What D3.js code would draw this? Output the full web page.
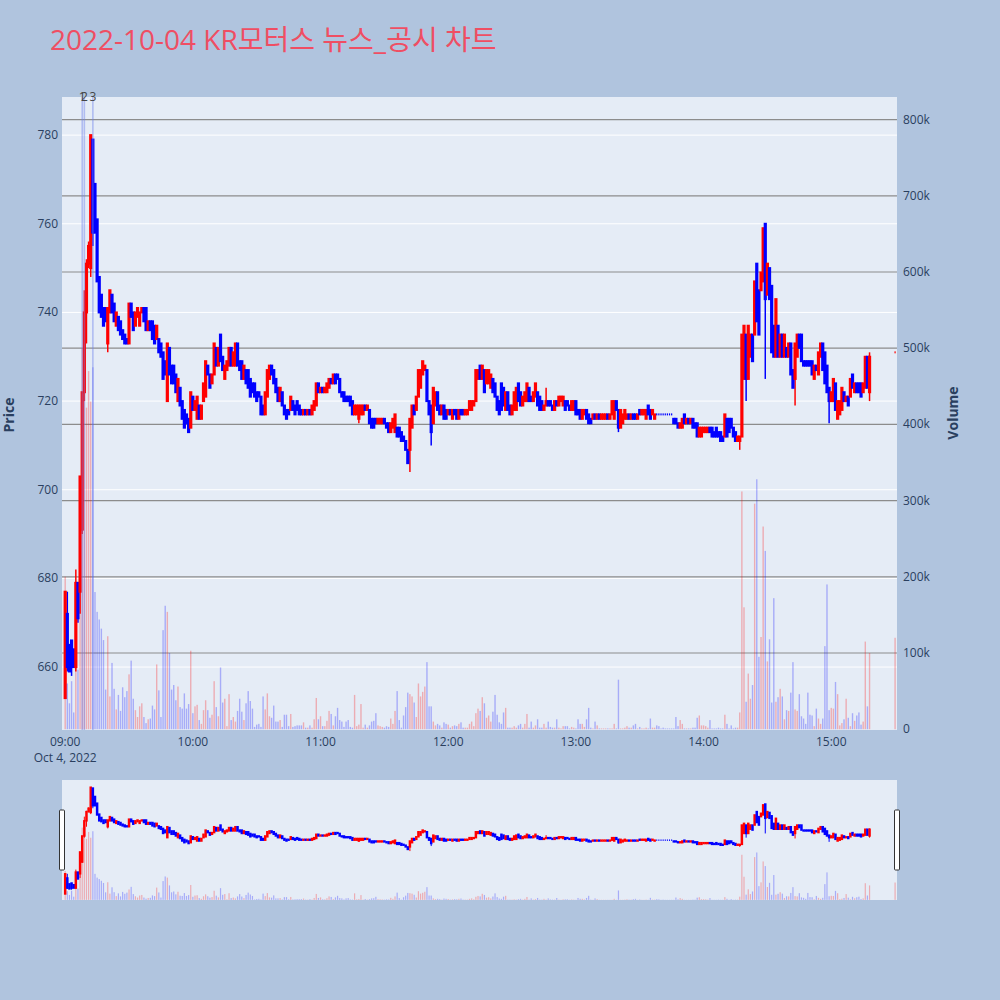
<!DOCTYPE html>
<html><head><meta charset="utf-8">
<script src="https://cdn.jsdelivr.net/npm/d3@7"></script>
<style>
body{margin:0;background:#B0C4DE;}
svg{display:block;font-family:"Open Sans","Noto Sans CJK KR",sans-serif;}
</style></head>
<body><svg id="chart" width="1000" height="1000"></svg>
<script>
// ---------------- DATA ----------------
const title = "2022-10-04 KR모터스 뉴스_공시 차트";
const sessionStart = "2022-10-04T09:00:00";
// minute candles 09:00 .. 15:18 (index = minutes after 09:00)
const opens = [
653,672,665,666,664,660,679,677,691,722,
740,751,750,779,769,761,748,744,741,741,
733,740,744,742,737,739,738,736,735,734,
733,742,740,737,739,737,740,741,741,736,
738,738,737,734,734,733,731,729,720,732,
728,728,726,720,723,720,718,717,716,714,
721,718,716,719,716,720,721,728,726,724,
726,732,728,735,730,725,727,728,732,728,
728,733,729,729,725,727,727,725,724,724,
722,722,721,719,717,721,725,728,727,725,
723,720,722,719,718,718,718,720,719,720,
719,718,717,718,717,718,717,718,719,724,
722,723,722,722,723,725,724,726,726,725,
722,722,721,721,721,720,717,717,716,717,
717,719,718,718,716,716,716,715,715,715,
716,715,715,713,714,713,714,714,713,712,
711,709,709,714,719,718,721,723,726,727,
727,720,719,715,719,722,719,717,719,718,
717,718,716,718,718,716,718,718,717,717,
718,718,719,720,725,728,725,727,724,724,
723,725,724,721,720,724,723,718,722,719,
717,718,718,724,722,719,720,720,723,721,
720,721,722,721,720,718,719,720,720,719,
718,720,719,720,719,720,720,719,718,718,
720,718,718,716,717,718,717,716,716,717,
716,717,716,716,716,717,716,717,716,720,
718,714,715,716,716,717,716,717,717,716,
718,717,717,716,719,718,717,716,717,717,
717,717,717,717,717,717,716,716,715,714,
714,717,715,716,715,716,715,715,712,712,
713,713,713,714,714,713,714,713,713,712,
712,716,716,716,714,713,711,711,712,725,
735,725,730,735,735,751,745,745,747,760,
744,750,746,737,730,737,730,735,730,732,
730,733,727,725,730,735,735,729,729,729,
729,729,725,728,726,730,733,731,728,723,
720,720,724,716,717,718,722,720,721,721,
726,722,724,724,724,722,723,730,722];
const closes = [
677,660,659,660,660,679,671,703,722,740,
751,755,780,758,758,747,740,739,737,738,
741,745,740,738,740,736,735,734,733,733,
742,739,736,740,741,740,741,738,736,738,
736,734,733,737,731,730,725,726,733,726,
724,724,722,725,719,716,714,715,713,722,
718,720,721,716,719,724,729,726,723,726,
733,728,732,729,727,728,729,732,728,731,
733,728,727,725,728,724,723,721,722,721,
720,721,717,717,722,727,728,726,724,722,
720,723,719,717,716,717,721,718,717,718,
717,717,718,717,718,717,719,720,724,722,
723,722,723,724,725,724,726,724,725,722,
721,720,720,720,719,717,719,719,719,719,
719,718,719,715,714,714,715,716,716,716,
715,714,713,715,716,717,712,712,711,711,
709,706,716,719,717,721,727,727,729,728,
720,717,713,723,722,718,717,719,716,716,
718,717,718,717,716,718,717,717,718,718,
720,720,720,727,727,725,728,722,727,727,
726,722,721,718,717,718,719,722,718,717,
719,722,723,720,719,721,722,724,720,720,
722,724,719,718,718,719,720,719,719,718,
720,719,721,721,721,718,719,718,720,720,
717,717,716,718,718,716,715,715,717,716,
717,716,717,717,717,716,717,720,720,718,
714,718,717,718,717,716,717,716,716,717,
717,718,718,718,717,716,718,717,717,717,
717,717,717,717,717,717,715,715,714,715,
716,715,716,715,716,714,714,712,714,714,
714,714,714,713,712,712,712,712,711,711,
717,712,713,714,712,711,712,712,735,737,
725,737,735,729,747,738,735,749,759,743,
751,743,731,730,743,730,735,730,735,730,
733,726,723,733,735,732,729,728,728,728,
728,726,728,727,731,733,727,724,722,720,
722,725,718,720,720,723,720,721,719,725,
723,724,722,722,721,724,730,723,730];
// visible wicks: [minute, high, low]
const wicks = [[0,677,653],[1,677,659],[3,666,658],[5,682,659],[6,679,670],[7,703,672],
[8,722,690],[9,745,720],[10,752,733],[11,756,750],[12,780,748],[13,779,755],[20,741,731],
[48,733,720],[73,735,729],[138,719,715],[162,716,704],[172,719,710],[226,723,719],
[260,718,713],[317,712,709],[320,735,720],[329,760,725],[343,733,719],[359,723,715],[378,731,720]];
// volume per minute, thousands of shares
const volumes = [
200,60,34,63,22,90,78,200,500,520,
422,470,430,475,180,154,144,132,117,52,
122,43,87,53,26,45,24,55,42,50,
72,90,40,25,16,30,34,16,8,13,
14,31,26,85,51,16,130,162,154,100,
52,58,38,56,29,27,47,27,33,103,
21,30,32,12,7,25,38,25,15,19,
63,29,17,81,35,40,4,46,12,16,
10,24,40,23,12,34,50,37,27,3,
6,7,3,43,26,47,17,15,31,10,
10,12,3,19,19,4,20,3,4,5,
5,5,9,2,2,5,2,13,41,13,
17,4,4,11,24,20,5,17,28,12,
10,3,10,12,3,2,45,4,6,33,
2,6,2,5,10,11,21,5,4,3,
2,4,3,14,7,24,50,12,2,18,
29,48,46,43,35,16,60,43,49,56,
88,30,30,10,5,7,5,2,9,7,
6,2,4,5,4,7,9,2,2,2,
7,10,4,21,27,24,42,34,15,18,
10,23,45,19,9,7,22,28,2,2,
2,4,2,5,7,2,7,20,2,10,
2,5,13,2,2,7,2,10,3,2,
2,13,2,1,4,4,4,1,3,2,
1,13,7,7,3,13,28,2,1,10,
5,1,1,1,1,1,1,1,7,1,
65,1,1,2,4,2,2,5,7,1,
3,1,1,2,1,14,2,2,5,4,
1,2,1,1,1,1,1,16,4,12,
7,1,1,1,1,2,2,15,18,5,
5,4,2,12,1,1,1,2,1,1,
19,7,1,5,1,2,2,22,312,160,
36,73,40,58,296,328,95,121,266,234,
89,118,35,172,36,42,53,43,13,25,
24,48,88,26,24,46,17,14,7,48,
19,18,4,27,14,7,14,109,190,25,
28,27,62,46,5,8,13,40,15,4,
21,11,18,22,6,10,115,30,100];
// closing auction (15:30)
const closingMinute = 390, closingPrice = 731, closingVolume = 120;
// news markers
const newsMinutes = [8, 9, 13];
const newsLabels = ["1", "2", "3"];
// axis ticks
const xTickMinutes = [0, 60, 120, 180, 240, 300, 360];
const xTickLabels = ["09:00", "10:00", "11:00", "12:00", "13:00", "14:00", "15:00"];
const priceTicks = [660, 680, 700, 720, 740, 760, 780];
const volumeTicks = [0, 100, 200, 300, 400, 500, 600, 700, 800];
const volumeTickLabels = ["0", "100k", "200k", "300k", "400k", "500k", "600k", "700k", "800k"];

// ---------------- BUILD ----------------
const t0 = new Date(sessionStart);
const tAt = m => new Date(t0.getTime() + m * 60000);
const wickMap = new Map(wicks.map(w => [w[0], w]));
const candles = opens.map((o, i) => {
  const c = closes[i], w = wickMap.get(i);
  return {t: tAt(i), o, c, h: Math.max(o, c, w ? w[1] : -Infinity), l: Math.min(o, c, w ? w[2] : Infinity), v: volumes[i] * 1000};
});
candles.push({t: tAt(closingMinute), o: closingPrice, c: closingPrice, h: closingPrice, l: closingPrice, v: closingVolume * 1000});
candles.forEach((d, i) => {
  if (d.c > d.o) d.up = true;
  else if (d.c < d.o) d.up = false;
  else d.up = i > 0 ? d.c > candles[i - 1].c : true;
});

const UP = "#ff0000", DOWN = "#0000ff";
const svg = d3.select("#chart");
const L = 62, R = 897, T = 97, B = 730;
const sT = 780, sB = 900;

const x = d3.scaleTime().domain([tAt(-1.5), tAt(390.9)]).range([L, R]);
const yP = d3.scaleLinear().domain([645.8, 788.6]).range([B, T]);
const yV = d3.scaleLinear().domain([-1.05, 829.7]).range([B, T]);
const yPs = d3.scaleLinear().domain([645.8, 788.6]).range([sB, sT]);
const yVs = d3.scaleLinear().domain([-1.05, 829.7]).range([sB, sT]);

// title
svg.append("text").attr("x", 50).attr("y", 50).attr("fill", "#EF4E63")
  .attr("font-size", 28).text(title);

// plot background
svg.append("rect").attr("x", L).attr("y", T).attr("width", R - L).attr("height", B - T).attr("fill", "#E5ECF6");
const defs = svg.append("defs");
defs.append("clipPath").attr("id", "clipMain").append("rect").attr("x", L).attr("y", T).attr("width", R - L).attr("height", B - T);
defs.append("clipPath").attr("id", "clipSlider").append("rect").attr("x", L).attr("y", sT).attr("width", R - L).attr("height", sB - sT);

// gridlines
const grid = svg.append("g");
grid.selectAll(".gp").data(priceTicks).join("line")
  .attr("x1", L).attr("x2", R).attr("y1", d => yP(d)).attr("y2", d => yP(d))
  .attr("stroke", "#ffffff").attr("stroke-width", 1);
grid.selectAll(".gv").data(volumeTicks.slice(1)).join("line")
  .attr("x1", L).attr("x2", R).attr("y1", d => yV(d)).attr("y2", d => yV(d))
  .attr("stroke", "#8c8c8c").attr("stroke-width", 1.2);

// candle: box of width w with an outline of lw (flat boxes collapse to a line of width w)
function drawCandles(g, ys, w, lw, wickW) {
  g.selectAll("line.w").data(candles).join("line").attr("class", "w")
    .attr("x1", d => x(d.t)).attr("x2", d => x(d.t))
    .attr("y1", d => ys(d.h)).attr("y2", d => ys(d.l))
    .attr("stroke", d => d.up ? UP : DOWN).attr("stroke-width", wickW);
  g.selectAll("rect.b").data(candles).join("rect").attr("class", "b")
    .each(function (d) {
      const top = ys(Math.max(d.o, d.c)), h = Math.abs(ys(d.o) - ys(d.c));
      const flat = d.o === d.c;
      const pad = flat ? 0 : lw / 2;
      d3.select(this)
        .attr("x", x(d.t) - w / 2 - pad).attr("width", w + 2 * pad)
        .attr("y", top - lw / 2).attr("height", h + lw);
    })
    .attr("fill", d => d.up ? UP : DOWN);
}
function drawVolume(g, ys, w) {
  g.selectAll("rect.v").data(candles).join("rect").attr("class", "v")
    .attr("x", d => x(d.t) - w / 2).attr("width", w)
    .attr("y", d => ys(d.v / 1000)).attr("height", d => ys(0) - ys(d.v / 1000))
    .attr("fill", d => d.up ? UP : DOWN).attr("fill-opacity", 0.27);
}

const main = svg.append("g").attr("clip-path", "url(#clipMain)");
drawCandles(main.append("g"), yP, 1.2, 2, 1.5);
drawVolume(main.append("g"), yV, 1.4);

// news markers
main.selectAll("line.n").data(newsMinutes).join("line").attr("class", "n")
  .attr("x1", d => x(tAt(d))).attr("x2", d => x(tAt(d))).attr("y1", T).attr("y2", B)
  .attr("stroke", "rgba(110,130,235,0.45)").attr("stroke-width", 1.6);
svg.selectAll("text.n").data(newsMinutes).join("text").attr("class", "n")
  .attr("x", d => x(tAt(d))).attr("y", 101).attr("text-anchor", "middle")
  .attr("font-size", 12).attr("fill", "#444").text((d, i) => newsLabels[i]);

// axes labels
const tickColor = "#2a3f5f";
svg.selectAll("text.yl").data(priceTicks).join("text").attr("class", "yl")
  .attr("x", 58).attr("y", d => yP(d) + 4).attr("text-anchor", "end")
  .attr("font-size", 12).attr("fill", tickColor).text(d => d);
svg.selectAll("text.yr").data(volumeTicks).join("text").attr("class", "yr")
  .attr("x", 903).attr("y", d => yV(d) + 4).attr("text-anchor", "start")
  .attr("font-size", 12).attr("fill", tickColor).text((d, i) => volumeTickLabels[i]);
svg.selectAll("text.xl").data(xTickMinutes).join("text").attr("class", "xl")
  .attr("x", d => x(tAt(d))).attr("y", 746).attr("text-anchor", "middle")
  .attr("font-size", 12).attr("fill", tickColor).text((d, i) => xTickLabels[i]);
svg.append("text").attr("x", x(tAt(0))).attr("y", 762).attr("text-anchor", "middle")
  .attr("font-size", 12).attr("fill", tickColor).text(d3.timeFormat("%b %-d, %Y")(t0));
svg.append("text").attr("transform", "translate(14,415) rotate(-90)").attr("text-anchor", "middle")
  .attr("font-size", 14).attr("font-weight", "bold").attr("fill", tickColor).text("Price");
svg.append("text").attr("transform", "translate(958,413) rotate(-90)").attr("text-anchor", "middle")
  .attr("font-size", 14).attr("font-weight", "bold").attr("fill", tickColor).text("Volume");

// range slider
svg.append("rect").attr("x", L).attr("y", sT).attr("width", R - L).attr("height", sB - sT).attr("fill", "#E5ECF6");
const sl = svg.append("g").attr("clip-path", "url(#clipSlider)");
drawCandles(sl.append("g"), yPs, 1.0, 1.5, 1);
drawVolume(sl.append("g"), yVs, 1.2);
[L, R].forEach(px => {
  svg.append("rect").attr("x", px - 2.5).attr("y", 810).attr("width", 5).attr("height", 60)
    .attr("rx", 1).attr("fill", "#ffffff").attr("stroke", "#333").attr("stroke-width", 1);
});
</script></body></html>
